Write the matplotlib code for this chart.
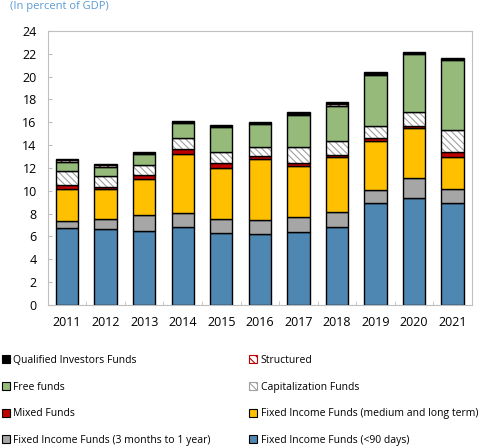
import numpy as np
import matplotlib
matplotlib.use('Agg')
import matplotlib.pyplot as plt
from matplotlib.patches import Patch

plt.rcParams['font.family'] = ['Open Sans', 'DejaVu Sans']
plt.rcParams['hatch.linewidth'] = 0.8

# ------------------------------------------------------------
# DATA (in percent of GDP)
# ------------------------------------------------------------
years = ['2011', '2012', '2013', '2014', '2015', '2016', '2017', '2018', '2019', '2020', '2021']

fi_90d      = [6.72, 6.63, 6.48, 6.80, 6.33, 6.22, 6.36, 6.86, 8.90, 9.34, 8.90]
fi_3m_1y    = [0.66, 0.90, 1.37, 1.26, 1.17, 1.19, 1.32, 1.28, 1.20, 1.81, 1.23]
fi_med_long = [2.78, 2.63, 3.21, 5.16, 4.47, 5.35, 4.46, 4.82, 4.23, 4.32, 2.86]
mixed       = [0.32, 0.17, 0.32, 0.47, 0.46, 0.31, 0.26, 0.20, 0.27, 0.23, 0.38]
capitaliz   = [1.22, 0.99, 0.85, 0.91, 0.94, 0.73, 1.40, 1.23, 1.10, 1.23, 1.93]
free_funds  = [0.80, 0.78, 0.97, 1.36, 2.19, 2.05, 2.84, 3.04, 4.44, 5.02, 6.12]
structured  = [0.18, 0.12, 0.10, 0.08, 0.10, 0.08, 0.10, 0.15, 0.10, 0.08, 0.08]
qualified   = [0.10, 0.15, 0.12, 0.10, 0.13, 0.12, 0.16, 0.20, 0.16, 0.12, 0.15]

title = '(In percent of GDP)'

# ------------------------------------------------------------
# SERIES STYLE (bottom -> top)
# ------------------------------------------------------------
series = [
    ('Fixed Income Funds (<90 days)', fi_90d, '#4F87B3', None, 'black'),
    ('Fixed Income Funds (3 months to 1 year)', fi_3m_1y, '#A6A6A6', None, 'black'),
    ('Fixed Income Funds (medium and long term)', fi_med_long, '#FFC000', None, 'black'),
    ('Mixed Funds', mixed, '#C00000', None, 'black'),
    ('Capitalization Funds', capitaliz, 'white', '\\\\\\\\\\', '#A0A0A0'),
    ('Free funds', free_funds, '#95BA7A', None, 'black'),
    ('Structured', structured, 'white', '\\\\\\\\', '#C00000'),
    ('Qualified Investors Funds', qualified, 'black', None, 'black'),
]

fig = plt.figure(figsize=(4.88, 4.47), dpi=100)
ax = fig.add_axes([0.098, 0.318, 0.869, 0.613])

x = np.arange(len(years))
bottom = np.zeros(len(years))
handles = {}
for name, vals, col, hatch, hcol in series:
    vals = np.array(vals)
    if hatch:
        ax.bar(x, vals, 0.58, bottom=bottom, color=col, hatch=hatch,
               edgecolor=hcol, linewidth=0)
        ax.bar(x, vals, 0.58, bottom=bottom, fill=False, edgecolor='black', linewidth=1.0)
    else:
        ax.bar(x, vals, 0.58, bottom=bottom, color=col, edgecolor='black', linewidth=1.0)
    handles[name] = Patch(facecolor=col, hatch=hatch, edgecolor=hcol if hatch else 'black',
                          linewidth=0.8)
    bottom += vals

ax.set_xlim(-0.5, len(years) - 0.5)
ax.set_ylim(0, 24)
ax.set_yticks(np.arange(0, 25, 2))
ax.set_xticks(x)
ax.set_xticklabels(years)
ax.set_xticks(np.arange(0.5, len(years) - 1, 1), minor=True)
ax.tick_params(axis='x', which='major', length=0, labelsize=9, pad=8)
ax.tick_params(axis='x', which='minor', direction='in', length=3, color='#BFBFBF')
ax.tick_params(axis='y', direction='in', length=3, color='#BFBFBF', labelsize=9, pad=8)
for s in ax.spines.values():
    s.set_color('#BFBFBF')

fig.text(0.02, 0.998, title, color='#5B9BD5', fontsize=8, va='top', ha='left')

order = ['Qualified Investors Funds', 'Free funds', 'Mixed Funds',
         'Fixed Income Funds (3 months to 1 year)',
         'Structured', 'Capitalization Funds',
         'Fixed Income Funds (medium and long term)', 'Fixed Income Funds (<90 days)']
fig.legend([handles[k] for k in order], order, ncol=2, loc='lower left',
           bbox_to_anchor=(-0.005, -0.007), frameon=False, fontsize=7.5,
           handlelength=0.8, handleheight=0.8, handletextpad=0.3,
           labelspacing=1.5, columnspacing=3.7, borderaxespad=0)

fig.savefig('out.png', dpi=100)
